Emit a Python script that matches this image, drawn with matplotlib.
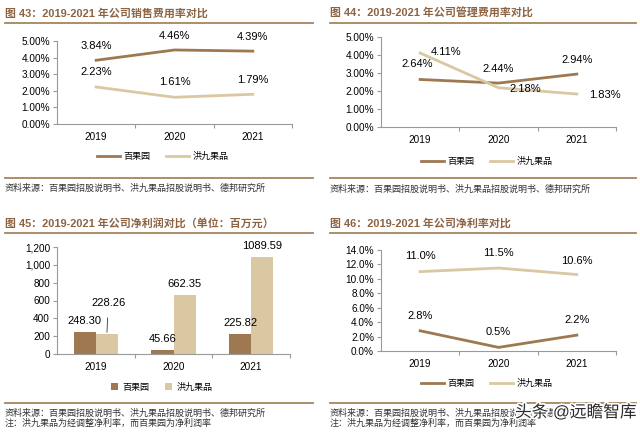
import numpy as np
import matplotlib
matplotlib.use("Agg")
import matplotlib.pyplot as plt
from matplotlib.ticker import FuncFormatter
import matplotlib.patheffects as pe

plt.rcParams['font.family'] = ['Liberation Sans', 'Noto Sans CJK SC', 'DejaVu Sans']

# ---- data ----
years = ['2019', '2020', '2021']
names = ['百果园', '洪九果品']

sell_bgy = [3.84, 4.46, 4.39]
sell_hj = [2.23, 1.61, 1.79]

mgmt_bgy = [2.64, 2.44, 2.94]
mgmt_hj = [4.11, 2.18, 1.83]

profit_bgy = [248.30, 45.66, 225.82]
profit_hj = [228.26, 662.35, 1089.59]

margin_bgy = [2.8, 0.5, 2.2]
margin_hj = [11.0, 11.5, 10.6]

titles = ['图 43：2019-2021 年公司销售费用率对比',
          '图 44：2019-2021 年公司管理费用率对比',
          '图 45：2019-2021 年公司净利润对比（单位：百万元）',
          '图 46：2019-2021 年公司净利率对比']
source = '资料来源：百果园招股说明书、洪九果品招股说明书、德邦研究所'
note = '注：洪九果品为经调整净利率，而百果园为净利润率'

# ---- style ----
C1 = '#9E7850'
C2 = '#D9C8A2'
TITLE_C = '#8C6444'
RULE_C = '#A8845E'
AX_C = '#9a9a9a'
W, H = 640, 434

fig = plt.figure(figsize=(6.4, 4.34), dpi=100)


def fx(px):
    return px / W


def fy(py):
    return 1 - py / H


def make_ax(x0, x1, ytop, ybot):
    ax = fig.add_axes([fx(x0), fy(ybot), fx(x1 - x0), fy(ytop) - fy(ybot)])
    for s in ['top', 'right']:
        ax.spines[s].set_visible(False)
    for s in ['left', 'bottom']:
        ax.spines[s].set_color(AX_C)
        ax.spines[s].set_linewidth(0.8)
    ax.set_xlim(-0.5, 2.5)
    ax.set_xticks([0, 1, 2])
    ax.set_xticklabels(years, fontsize=7.2)
    ax.set_xticks([0.5, 1.5, 2.5], minor=True)
    ax.tick_params(axis='x', which='major', length=0, pad=6)
    ax.tick_params(axis='x', which='minor', length=3, color=AX_C, width=0.8)
    ax.tick_params(axis='y', length=3, color=AX_C, width=0.8, labelsize=7.2, pad=2)
    return ax


def frame(xl, xr, ytitle, yrule, ybot, ysrc, title, with_note=False):
    fig.text(fx(xl), fy(ytitle), title, fontsize=7.9, fontweight='bold',
             color=TITLE_C, va='center', ha='left')
    fig.add_artist(plt.Line2D([fx(xl), fx(xr)], [fy(yrule), fy(yrule)],
                              color=RULE_C, lw=1.3))
    fig.add_artist(plt.Line2D([fx(xl), fx(xr)], [fy(ybot), fy(ybot)],
                              color=RULE_C, lw=1.3))
    fig.text(fx(xl), fy(ysrc), source, fontsize=6.5, color='#333333',
             va='center', ha='left')
    if with_note:
        fig.text(fx(xl), fy(ysrc + 10), note, fontsize=6.5, color='#333333',
                 va='center', ha='left')


def label_line(ax, vals, fmt, offsets):
    for i, (v, off) in enumerate(zip(vals, offsets)):
        ax.annotate(fmt.format(v), (i, v), xytext=off, textcoords='offset points',
                    ha='center', va='center', fontsize=8)


def legend(ax, handles, y):
    ax.legend(handles=handles, labels=names, loc='center',
              bbox_to_anchor=(0.45, y), ncol=2, frameon=False,
              fontsize=6.5, handlelength=2.5, columnspacing=1.8, handletextpad=0.4)


pct2 = FuncFormatter(lambda v, p: '{:.2f}%'.format(v))
pct1 = FuncFormatter(lambda v, p: '{:.1f}%'.format(v))

# ---- panel 43 ----
frame(5, 313, 13, 23, 178, 188, titles[0])
ax1 = make_ax(57, 292, 41, 124)
l1, = ax1.plot(range(3), sell_bgy, color=C1, lw=2)
l2, = ax1.plot(range(3), sell_hj, color=C2, lw=2)
ax1.set_ylim(0, 5)
ax1.set_yticks(np.arange(0, 5.01, 1))
ax1.yaxis.set_major_formatter(pct2)
label_line(ax1, sell_bgy, '{:.2f}%', [(0, 10), (0, 10), (0, 10)])
label_line(ax1, sell_hj, '{:.2f}%', [(0, 11), (0, 11), (0, 10)])
legend(ax1, [l1, l2], -0.39)

# ---- panel 44 ----
frame(330, 636, 13, 23, 178, 189, titles[1])
ax2 = make_ax(381, 616, 37, 127)
l1, = ax2.plot(range(3), mgmt_bgy, color=C1, lw=2)
l2, = ax2.plot(range(3), mgmt_hj, color=C2, lw=2)
ax2.set_ylim(0, 5)
ax2.set_yticks(np.arange(0, 5.01, 1))
ax2.yaxis.set_major_formatter(pct2)
label_line(ax2, mgmt_bgy, '{:.2f}%', [(-2, 11), (0, 10), (0, 10)])
label_line(ax2, mgmt_hj, '{:.2f}%', [(19, 1), (19, -1), (20, -1)])
legend(ax2, [l1, l2], -0.38)

# ---- panel 45 ----
frame(5, 313, 223, 233, 403, 413, titles[2], with_note=True)
ax3 = make_ax(57, 290, 247, 354)
bw = 0.285
x = np.arange(3)
b1 = ax3.bar(x - bw / 2, profit_bgy, bw, color=C1)
b2 = ax3.bar(x + bw / 2, profit_hj, bw, color=C2)
ax3.set_ylim(0, 1200)
ax3.set_yticks(np.arange(0, 1201, 200))
ax3.yaxis.set_major_formatter(FuncFormatter(lambda v, p: '{:,.0f}'.format(v)))
for i, v in enumerate(profit_bgy):
    ax3.annotate('{:.2f}'.format(v), (i - bw / 2, v), xytext=(0, 8),
                 textcoords='offset points', ha='center', va='center', fontsize=8)
for i, v in enumerate(profit_hj):
    if i == 0:
        ax3.annotate('{:.2f}'.format(v), (i + bw / 2, v), xytext=(1, 22),
                     textcoords='offset points', ha='center', va='center', fontsize=8,
                     arrowprops=dict(arrowstyle='-', color='#333333', lw=0.6,
                                     shrinkA=5, shrinkB=1))
    else:
        ax3.annotate('{:.2f}'.format(v), (i + bw / 2, v), xytext=(0, 8),
                     textcoords='offset points', ha='center', va='center', fontsize=8)
ax3.legend(handles=[b1, b2], labels=names, loc='center', bbox_to_anchor=(0.45, -0.31),
           ncol=2, frameon=False, fontsize=6.5, handlelength=0.7, handleheight=0.7,
           columnspacing=1.8, handletextpad=0.5)

# ---- panel 46 ----
frame(330, 636, 223, 233, 403, 413, titles[3], with_note=True)
ax4 = make_ax(381, 616, 250, 351)
l1, = ax4.plot(range(3), margin_bgy, color=C1, lw=2)
l2, = ax4.plot(range(3), margin_hj, color=C2, lw=2)
ax4.set_ylim(0, 14)
ax4.set_yticks(np.arange(0, 14.01, 2))
ax4.yaxis.set_major_formatter(pct1)
label_line(ax4, margin_bgy, '{:.1f}%', [(0, 11), (0, 11), (0, 11)])
label_line(ax4, margin_hj, '{:.1f}%', [(0, 11), (0, 11), (0, 10)])
legend(ax4, [l1, l2], -0.32)

# watermark
fig.text(fx(515), fy(412), '头条 @远瞻智库', fontsize=12, color='#2a2a2a',
         va='center', ha='left',
         path_effects=[pe.withStroke(linewidth=2.5, foreground='white')])

fig.savefig('out.png', dpi=100, facecolor='white')
